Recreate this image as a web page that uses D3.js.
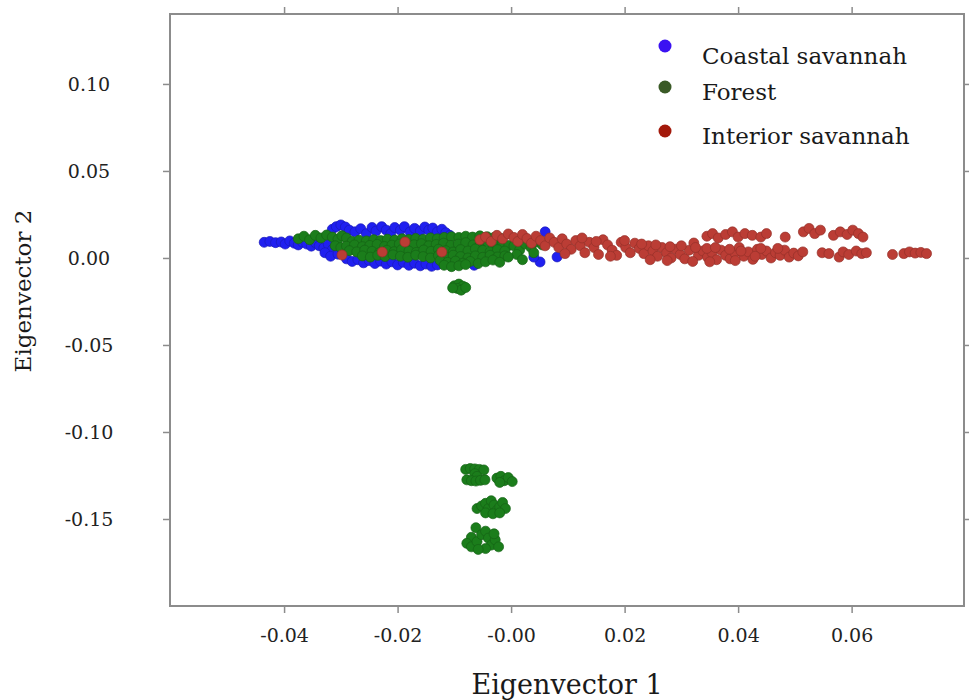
<!DOCTYPE html>
<html>
<head>
<meta charset="utf-8">
<script src="https://cdn.jsdelivr.net/npm/d3@7"></script>
<style>
    body { margin: 0; background: #fff; }
    svg { display: block; }
    .tick text { font-family: "DejaVu Serif", serif; fill: #222; }
    .tick line { stroke: #8c8c8c; stroke-width: 1.5px; }
</style>
</head>
<body>
<div id="chart"></div>
<script>

// tick values and their printed labels
let xTicks = [-0.04, -0.02, 0.00, 0.02, 0.04, 0.06];
let xTickLabels = ["-0.04", "-0.02", "-0.00", "0.02", "0.04", "0.06"];
let yTicks = [0.10, 0.05, 0.00, -0.05, -0.10, -0.15];
let yTickLabels = ["0.10", "0.05", "0.00", "-0.05", "-0.10", "-0.15"];

let legendLabels = ["Coastal savannah", "Forest", "Interior savannah"];

// [eigenvector 1, eigenvector 2] per sample
let coastal = [
    [-0.0435,0.0090],[-0.0425,0.0095],[-0.0415,0.0088],[-0.0405,0.0092],[-0.0398,0.0080],[-0.0390,0.0098],
    [-0.0382,0.0085],[-0.0375,0.0075],[-0.0368,0.0092],[-0.0360,0.0080],[-0.0352,0.0068],[-0.0345,0.0088],
    [-0.0338,0.0070],[-0.0330,0.0058],[-0.0322,0.0078],[-0.0315,0.0048],[-0.0308,0.0065],[-0.0300,0.0040],
    [-0.0328,0.0030],[-0.0318,0.0010],[-0.0305,0.0022],[-0.0298,0.0050],
    [-0.0315,0.0165],[-0.0308,0.0180],[-0.0300,0.0190],[-0.0292,0.0178],[-0.0285,0.0160],
    [-0.0275,0.0150],[-0.0265,0.0168],[-0.0255,0.0140],[-0.0245,0.0175],[-0.0238,0.0155],[-0.0228,0.0180],
    [-0.0220,0.0160],[-0.0212,0.0140],[-0.0205,0.0175],[-0.0195,0.0160],[-0.0188,0.0180],[-0.0178,0.0150],
    [-0.0170,0.0170],[-0.0160,0.0155],[-0.0152,0.0178],[-0.0145,0.0160],[-0.0138,0.0172],[-0.0130,0.0150],
    [-0.0122,0.0165],[-0.0115,0.0145],[-0.0108,0.0130],
    [-0.0290,-0.0005],[-0.0280,-0.0020],[-0.0270,-0.0010],[-0.0260,-0.0028],[-0.0250,-0.0015],[-0.0240,-0.0032],
    [-0.0230,-0.0018],[-0.0220,-0.0035],[-0.0210,-0.0022],[-0.0200,-0.0040],[-0.0190,-0.0025],[-0.0180,-0.0042],
    [-0.0170,-0.0030],[-0.0160,-0.0045],[-0.0150,-0.0035],[-0.0140,-0.0048],[-0.0130,-0.0040],
    [-0.0095,-0.0030],[-0.0065,-0.0042],[0.0051,-0.0023],[0.0040,0.0005],[0.0060,0.0150],[0.0081,0.0006]
];

let forest = [
    [-0.0375,0.0110],[-0.0365,0.0125],[-0.0355,0.0105],[-0.0345,0.0130],[-0.0335,0.0115],[-0.0325,0.0132],
    [-0.0315,0.0120],[-0.0305,0.0108],[-0.0298,0.0128],[-0.0290,0.0115],[-0.0310,0.0070],[-0.0300,0.0060],
    [-0.0280,0.0095],[-0.0268,0.0102],[-0.0255,0.0098],[-0.0242,0.0105],[-0.0230,0.0100],[-0.0218,0.0108],
    [-0.0205,0.0103],[-0.0192,0.0110],[-0.0180,0.0106],[-0.0168,0.0112],[-0.0155,0.0108],[-0.0142,0.0115],
    [-0.0130,0.0110],[-0.0118,0.0118],[-0.0105,0.0122],[-0.0092,0.0118],[-0.0080,0.0125],[-0.0068,0.0120],
    [-0.0055,0.0127],[-0.0042,0.0122],[-0.0030,0.0118],[-0.0018,0.0112],
    [-0.0290,0.0068],[-0.0276,0.0075],[-0.0262,0.0065],[-0.0249,0.0072],[-0.0236,0.0078],[-0.0223,0.0066],
    [-0.0210,0.0074],[-0.0197,0.0080],[-0.0184,0.0068],[-0.0171,0.0076],[-0.0158,0.0082],[-0.0145,0.0070],
    [-0.0132,0.0078],[-0.0119,0.0085],[-0.0106,0.0072],[-0.0093,0.0080],[-0.0080,0.0088],[-0.0067,0.0075],
    [-0.0054,0.0083],[-0.0041,0.0090],[-0.0028,0.0078],[-0.0015,0.0085],[-0.0004,0.0072],
    [-0.0285,0.0042],[-0.0272,0.0035],[-0.0258,0.0045],[-0.0245,0.0038],[-0.0232,0.0030],[-0.0219,0.0044],
    [-0.0206,0.0036],[-0.0193,0.0048],[-0.0180,0.0040],[-0.0167,0.0032],[-0.0154,0.0046],[-0.0141,0.0038],
    [-0.0128,0.0050],[-0.0115,0.0042],[-0.0102,0.0034],[-0.0089,0.0048],[-0.0076,0.0040],[-0.0063,0.0052],
    [-0.0050,0.0044],[-0.0037,0.0036],[-0.0024,0.0048],[-0.0011,0.0040],
    [-0.0262,0.0012],[-0.0248,0.0005],[-0.0235,0.0015],[-0.0222,0.0008],[-0.0208,0.0018],[-0.0195,0.0010],
    [-0.0182,0.0004],[-0.0168,0.0016],[-0.0155,0.0008],[-0.0142,0.0000],[-0.0128,0.0014],[-0.0115,0.0005],
    [-0.0102,0.0016],[-0.0089,0.0008],[-0.0076,0.0000],[-0.0063,0.0012],[-0.0050,0.0004],[-0.0037,0.0015],
    [-0.0024,0.0006],[-0.0011,0.0012],
    [-0.0125,-0.0015],[-0.0112,-0.0025],[-0.0098,-0.0018],[-0.0085,-0.0030],[-0.0072,-0.0020],[-0.0058,-0.0032],
    [-0.0045,-0.0022],[-0.0032,-0.0012],[-0.0020,-0.0025],
    [-0.0118,-0.0042],[-0.0105,-0.0050],[-0.0092,-0.0045],[-0.0080,-0.0038],
    [0.0005,0.0070],[0.0015,0.0045],[0.0025,0.0080],[0.0035,0.0060],[0.0045,0.0092],[0.0055,0.0075],
    [0.0010,0.0020],[-0.0005,0.0005],[0.0020,-0.0010],[0.0040,0.0030],
    // small group just below the band
    [-0.0100,-0.0160],[-0.0092,-0.0150],[-0.0085,-0.0162],[-0.0095,-0.0175],[-0.0088,-0.0185],[-0.0080,-0.0170],
    [-0.0103,-0.0172],
    // outlying groups
    [-0.0080,-0.1215],[-0.0072,-0.1210],[-0.0064,-0.1212],[-0.0056,-0.1215],[-0.0048,-0.1218],[-0.0064,-0.1240],
    [-0.0060,-0.1255],[-0.0078,-0.1275],[-0.0070,-0.1280],[-0.0062,-0.1282],[-0.0054,-0.1278],[-0.0046,-0.1275],
    [-0.0025,-0.1265],[-0.0018,-0.1255],[-0.0012,-0.1280],[-0.0005,-0.1262],[0.0002,-0.1285],[-0.0020,-0.1290],
    [-0.0060,-0.1440],[-0.0052,-0.1425],[-0.0045,-0.1410],[-0.0040,-0.1440],[-0.0035,-0.1395],[-0.0030,-0.1420],
    [-0.0025,-0.1450],[-0.0020,-0.1430],[-0.0015,-0.1405],[-0.0010,-0.1440],[-0.0045,-0.1465],[-0.0032,-0.1470],
    [-0.0020,-0.1465],
    [-0.0062,-0.1550],[-0.0070,-0.1605],[-0.0078,-0.1640],[-0.0070,-0.1660],[-0.0060,-0.1630],[-0.0052,-0.1590],
    [-0.0045,-0.1570],[-0.0040,-0.1610],[-0.0035,-0.1650],[-0.0028,-0.1620],[-0.0022,-0.1660],[-0.0045,-0.1670],
    [-0.0058,-0.1675],[-0.0030,-0.1585]
];

let interior = [
    [-0.0298,0.0017],[-0.0227,0.0034],[-0.0187,0.0092],[-0.0122,0.0034],
    [-0.0055,0.0105],[-0.0045,0.0120],[-0.0035,0.0095],[-0.0025,0.0130],[-0.0015,0.0110],[-0.0005,0.0138],
    [0.0005,0.0118],[0.0012,0.0095],[0.0020,0.0135],[0.0028,0.0112],[0.0036,0.0085],[0.0044,0.0125],
    [0.0052,0.0100],[0.0060,0.0070],[0.0068,0.0115],[0.0076,0.0090],[0.0084,0.0060],
    [0.0090,0.0110],[0.0098,0.0080],[0.0106,0.0050],[0.0114,0.0100],[0.0122,0.0070],[0.0130,0.0030],
    [0.0138,0.0090],[0.0146,0.0060],[0.0154,0.0020],[0.0162,0.0105],[0.0170,0.0075],[0.0178,0.0045],
    [0.0186,0.0015],[0.0194,0.0090],[0.0202,0.0060],[0.0210,0.0030],
    [0.0218,0.0085],[0.0226,0.0055],[0.0234,0.0025],[0.0242,0.0070],[0.0250,0.0040],[0.0258,0.0010],
    [0.0266,0.0060],[0.0274,0.0030],[0.0282,0.0000],[0.0290,0.0050],[0.0298,0.0020],[0.0306,-0.0005],
    [0.0314,0.0045],[0.0322,0.0086],[0.0330,0.0015],[0.0338,0.0040],[0.0346,0.0005],[0.0354,0.0030],
    [0.0362,-0.0010],[0.0370,0.0045],[0.0378,0.0015],[0.0386,-0.0005],[0.0394,0.0030],
    [0.0402,0.0060],[0.0410,0.0010],[0.0418,0.0035],[0.0426,-0.0008],[0.0434,0.0050],[0.0442,0.0020],
    [0.0450,0.0040],[0.0458,0.0000],[0.0466,0.0030],[0.0474,0.0015],[0.0482,0.0045],[0.0490,0.0005],
    [0.0498,0.0028],[0.0506,0.0012],[0.0514,0.0035],
    [0.0095,0.0025],[0.0125,0.0115],[0.0150,0.0095],[0.0175,0.0010],[0.0200,0.0100],[0.0230,0.0080],
    [0.0255,0.0075],[0.0280,0.0065],[0.0300,0.0070],[0.0325,0.0060],[0.0345,0.0055],[0.0360,0.0060],
    [0.0385,0.0050],[0.0405,0.0040],[0.0440,0.0055],[0.0470,0.0055],[0.0245,-0.0010],[0.0275,-0.0015],
    [0.0320,-0.0020],[0.0350,-0.0022],[0.0395,-0.0015],[0.0430,0.0010],
    [0.0345,0.0125],[0.0355,0.0140],[0.0365,0.0115],[0.0378,0.0135],[0.0390,0.0150],[0.0400,0.0120],
    [0.0412,0.0140],[0.0425,0.0130],[0.0440,0.0120],[0.0450,0.0140],
    [0.0483,0.0120],[0.0515,0.0150],[0.0525,0.0170],[0.0535,0.0140],[0.0545,0.0160],[0.0568,0.0130],
    [0.0580,0.0150],[0.0592,0.0135],[0.0602,0.0160],[0.0612,0.0140],[0.0620,0.0120],
    [0.0548,0.0030],[0.0560,0.0025],[0.0578,0.0005],[0.0585,0.0035],[0.0595,0.0020],[0.0608,0.0040],
    [0.0618,0.0025],[0.0626,0.0030],
    [0.0672,0.0020],[0.0692,0.0025],[0.0702,0.0035],[0.0712,0.0028],[0.0722,0.0032],[0.0732,0.0025]
];

let margin = {top: 14, right: 5, bottom: 94, left: 170};
let width = 969 - margin.left - margin.right;
let height = 700 - margin.top - margin.bottom;

let svg = d3.select("#chart").append("svg")
    .attr("width", 969)
    .attr("height", 700);

let g = svg.append("g")
    .attr("transform", `translate(${margin.left}, ${margin.top})`);

let x = d3.scaleLinear()
    .domain([-0.0601, 0.0798])
    .range([0, width]);

let y = d3.scaleLinear()
    .domain([-0.2, 0.1402])
    .range([height, 0]);

// axes (ticks only, the frame is drawn as a rect)
let xAxis = d3.axisBottom(x).tickValues(xTicks)
    .tickFormat((d, i) => xTickLabels[i]).tickSize(7).tickPadding(16);
let xAxisTop = d3.axisTop(x).tickValues(xTicks).tickFormat("").tickSize(7);
let yAxis = d3.axisLeft(y).tickValues(yTicks)
    .tickFormat((d, i) => yTickLabels[i]).tickSize(7).tickPadding(0);
let yAxisRight = d3.axisRight(y).tickValues(yTicks).tickFormat("").tickSize(7);

g.append("g").attr("class", "x-axis")
    .attr("transform", `translate(0, ${height})`)
    .call(xAxis)
    .call(a => a.select(".domain").remove())
    .selectAll("text").style("font-size", "19px");

g.append("g").call(xAxisTop).call(a => a.select(".domain").remove());
g.append("g").attr("transform", `translate(${width}, 0)`)
    .call(yAxisRight).call(a => a.select(".domain").remove());

g.append("g").attr("class", "y-axis")
    .call(yAxis)
    .call(a => a.select(".domain").remove())
    .selectAll("text")
    .style("font-size", "19px")
    .attr("text-anchor", "middle")
    .attr("x", 89 - margin.left);

// frame
g.append("rect")
    .attr("width", width)
    .attr("height", height)
    .attr("fill", "none")
    .attr("stroke", "#8c8c8c")
    .attr("stroke-width", 2);

// points
let groups = [
    {data: coastal, fill: "#2020f0", stroke: "#1a1ab8"},
    {data: forest, fill: "#1b7d1b", stroke: "#156315"},
    {data: interior, fill: "#bb3d35", stroke: "#953029"}
];

groups.forEach(grp => {
    g.append("g").selectAll("circle")
        .data(grp.data)
        .enter()
        .append("circle")
        .attr("cx", d => x(d[0]))
        .attr("cy", d => y(d[1]))
        .attr("r", 5)
        .attr("fill", grp.fill)
        .attr("stroke", grp.stroke)
        .attr("stroke-width", 0.7);
});

// legend
let legendColors = ["#3b12f2", "#3a5a26", "#a3190b"];
let legendDotY = [46, 87, 131];
let legendTextY = [64, 100, 144];
let legend = svg.append("g");
legendLabels.forEach((label, i) => {
    legend.append("circle")
        .attr("cx", 665).attr("cy", legendDotY[i]).attr("r", 6.5)
        .attr("fill", legendColors[i]);
    legend.append("text")
        .attr("x", 702).attr("y", legendTextY[i])
        .style("font-family", "DejaVu Serif, serif")
        .style("font-size", "23px")
        .attr("fill", "#1a1a1a")
        .text(label);
});

// axis titles
svg.append("text")
    .attr("x", 567).attr("y", 694)
    .attr("text-anchor", "middle")
    .style("font-family", "DejaVu Serif, serif")
    .style("font-size", "27px")
    .attr("fill", "#1a1a1a")
    .text("Eigenvector 1");

svg.append("text")
    .attr("transform", "translate(31, 291) rotate(-90)")
    .attr("text-anchor", "middle")
    .style("font-family", "DejaVu Serif, serif")
    .style("font-size", "23px")
    .attr("fill", "#1a1a1a")
    .text("Eigenvector 2");

</script>
</body>
</html>
